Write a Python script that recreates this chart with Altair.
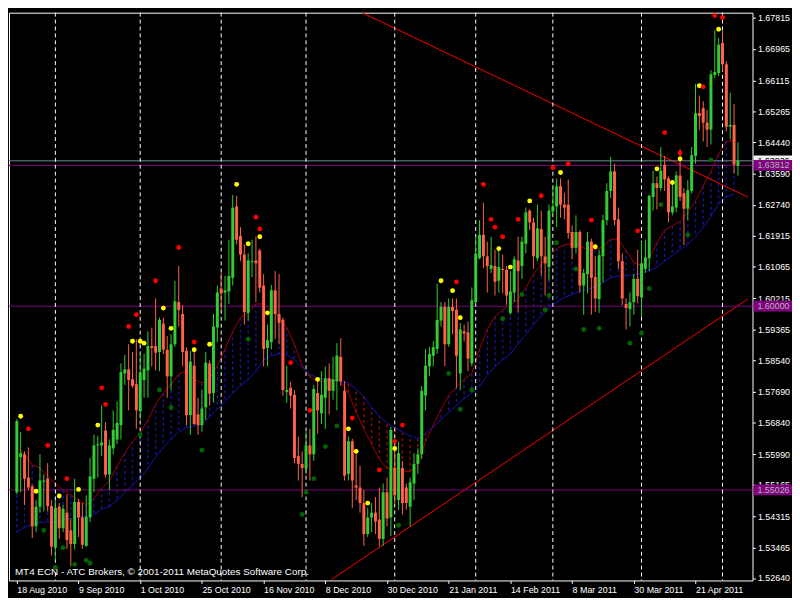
import altair as alt
import pandas as pd

# ---------------- data ----------------
date_labels = ["18 Aug 2010", "9 Sep 2010", "1 Oct 2010", "25 Oct 2010", "16 Nov 2010",
               "8 Dec 2010", "30 Dec 2010", "21 Jan 2011", "14 Feb 2011", "8 Mar 2011",
               "30 Mar 2011", "21 Apr 2011"]
date_ticks = [0, 16, 32, 48, 64, 80, 96, 112, 128, 144, 160, 176]
month_start_bars = [10, 32, 53, 75, 98, 119, 139, 162, 183]

price_ticks = [1.67815, 1.66965, 1.66115, 1.65265, 1.64440, 1.63590, 1.62740, 1.61915,
               1.61065, 1.60215, 1.59365, 1.58540, 1.57690, 1.56840, 1.55990, 1.55165,
               1.54315, 1.53465, 1.52640]

opens = [1.5496, 1.5591, 1.5599, 1.5536, 1.5512, 1.5404, 1.5457, 1.5525, 1.5533, 1.5459,
         1.5346, 1.5457, 1.5399, 1.5441, 1.5393, 1.5356, 1.5470, 1.5428, 1.5351, 1.5428,
         1.5533, 1.5623, 1.5623, 1.5663, 1.5544, 1.5615, 1.5639, 1.5678, 1.5818, 1.5829,
         1.5802, 1.5789, 1.5715, 1.5800, 1.5826, 1.5892, 1.5892, 1.5876, 1.5953, 1.5882,
         1.5810, 1.5897, 1.6011, 1.5979, 1.5879, 1.5705, 1.5839, 1.5707, 1.5678, 1.5726,
         1.5845, 1.5765, 1.5942, 1.6048, 1.6037, 1.6040, 1.6077, 1.6270, 1.6190, 1.6140,
         1.5982, 1.6119, 1.6124, 1.6151, 1.6056, 1.5887, 1.5903, 1.6043, 1.5979, 1.5963,
         1.5768, 1.5779, 1.5760, 1.5594, 1.5573, 1.5560, 1.5623, 1.5599, 1.5765, 1.5710,
         1.5752, 1.5805, 1.5771, 1.5797, 1.5863, 1.5771, 1.5546, 1.5634, 1.5515, 1.5509,
         1.5467, 1.5383, 1.5428, 1.5441, 1.5422, 1.5370, 1.5496, 1.5428, 1.5562, 1.5475,
         1.5562, 1.5509, 1.5457, 1.5520, 1.5573, 1.5599, 1.5758, 1.5837, 1.5866, 1.5884,
         1.5961, 1.5998, 1.5897, 1.5998, 1.5990, 1.5818, 1.5932, 1.5929, 1.5845, 1.6011,
         1.6130, 1.6193, 1.6135, 1.6101, 1.6109, 1.6069, 1.6101, 1.6098, 1.5982, 1.6037,
         1.6124, 1.6109, 1.6169, 1.6259, 1.6227, 1.6130, 1.6209, 1.6135, 1.6106, 1.6256,
         1.6270, 1.6325, 1.6275, 1.6275, 1.6201, 1.6158, 1.6201, 1.6056, 1.6087, 1.6175,
         1.6079, 1.6019, 1.6135, 1.6233, 1.6312, 1.6365, 1.6235, 1.6122, 1.6006, 1.5992,
         1.6011, 1.6074, 1.6024, 1.6101, 1.6130, 1.6296, 1.6333, 1.6320, 1.6383, 1.6346,
         1.6254, 1.6267, 1.6354, 1.6306, 1.6264, 1.6312, 1.6407, 1.6523, 1.6536, 1.6497,
         1.6478, 1.6626, 1.6631, 1.6713, 1.6655, 1.6486, 1.6491, 1.6380]
highs = [1.5694, 1.5660, 1.5607, 1.5618, 1.5517, 1.5475, 1.5599, 1.5544, 1.5575, 1.5475,
         1.5475, 1.5467, 1.5462, 1.5491, 1.5425, 1.5533, 1.5478, 1.5467, 1.5488, 1.5589,
         1.5652, 1.5649, 1.5731, 1.5686, 1.5639, 1.5718, 1.5742, 1.5845, 1.5868, 1.5897,
         1.5876, 1.5911, 1.5873, 1.5871, 1.5932, 1.5942, 1.6021, 1.5969, 1.5969, 1.5919,
         1.5924, 1.6069, 1.6109, 1.6003, 1.5889, 1.5879, 1.5876, 1.5752, 1.5773, 1.5876,
         1.5853, 1.5979, 1.6056, 1.6090, 1.6082, 1.6180, 1.6301, 1.6299, 1.6214, 1.6167,
         1.6143, 1.6180, 1.6188, 1.6156, 1.6087, 1.5950, 1.6058, 1.6095, 1.6087, 1.5969,
         1.5839, 1.5795, 1.5773, 1.5647, 1.5607, 1.5660, 1.5668, 1.5787, 1.5797, 1.5824,
         1.5837, 1.5845, 1.5863, 1.5900, 1.5913, 1.5797, 1.5647, 1.5641, 1.5602, 1.5568,
         1.5502, 1.5454, 1.5467, 1.5483, 1.5509, 1.5520, 1.5536, 1.5673, 1.5626, 1.5633,
         1.5581, 1.5520, 1.5536, 1.5602, 1.5615, 1.5784, 1.5884, 1.5890, 1.5905, 1.6061,
         1.6011, 1.6011, 1.6021, 1.6021, 1.6021, 1.5955, 1.5950, 1.5958, 1.6051, 1.6188,
         1.6233, 1.6280, 1.6175, 1.6188, 1.6153, 1.6153, 1.6140, 1.6109, 1.6095, 1.6135,
         1.6188, 1.6188, 1.6267, 1.6262, 1.6240, 1.6275, 1.6259, 1.6188, 1.6275, 1.6328,
         1.6346, 1.6346, 1.6307, 1.6343, 1.6219, 1.6246, 1.6206, 1.6101, 1.6201, 1.6183,
         1.6135, 1.6153, 1.6248, 1.6333, 1.6404, 1.6386, 1.6267, 1.6143, 1.6021, 1.6037,
         1.6087, 1.6153, 1.6175, 1.6180, 1.6301, 1.6367, 1.6351, 1.6431, 1.6407, 1.6351,
         1.6338, 1.6365, 1.6425, 1.6320, 1.6341, 1.6431, 1.6602, 1.6570, 1.6555, 1.6531,
         1.6639, 1.6747, 1.6726, 1.6745, 1.6663, 1.6578, 1.6547, 1.6444]
lows = [1.5491, 1.5496, 1.5462, 1.5502, 1.5372, 1.5388, 1.5441, 1.5444, 1.5444, 1.5325,
        1.5312, 1.5370, 1.5388, 1.5343, 1.5296, 1.5341, 1.5375, 1.5343, 1.5349, 1.5415,
        1.5496, 1.5536, 1.5594, 1.5536, 1.5502, 1.5599, 1.5626, 1.5639, 1.5787, 1.5718,
        1.5779, 1.5668, 1.5694, 1.5752, 1.5752, 1.5837, 1.5826, 1.5824, 1.5871, 1.5752,
        1.5773, 1.5890, 1.5945, 1.5837, 1.5678, 1.5652, 1.5678, 1.5652, 1.5660, 1.5692,
        1.5731, 1.5739, 1.5903, 1.5990, 1.5961, 1.6006, 1.6056, 1.6167, 1.6122, 1.5950,
        1.5961, 1.6079, 1.6011, 1.6037, 1.5837, 1.5837, 1.5884, 1.5911, 1.5897, 1.5758,
        1.5739, 1.5723, 1.5575, 1.5528, 1.5483, 1.5546, 1.5528, 1.5581, 1.5655, 1.5681,
        1.5668, 1.5707, 1.5747, 1.5718, 1.5784, 1.5528, 1.5528, 1.5454, 1.5475, 1.5441,
        1.5351, 1.5375, 1.5388, 1.5383, 1.5349, 1.5351, 1.5404, 1.5378, 1.5467, 1.5449,
        1.5436, 1.5449, 1.5404, 1.5475, 1.5546, 1.5586, 1.5718, 1.5810, 1.5837, 1.5871,
        1.5945, 1.5837, 1.5890, 1.5924, 1.5779, 1.5773, 1.5905, 1.5824, 1.5837, 1.6008,
        1.6127, 1.6103, 1.6037, 1.6090, 1.6029, 1.6037, 1.6035, 1.6003, 1.5977, 1.6011,
        1.5984, 1.6074, 1.6143, 1.6206, 1.6101, 1.6122, 1.6082, 1.6029, 1.6069, 1.6248,
        1.6214, 1.6240, 1.6235, 1.6183, 1.6127, 1.6143, 1.6037, 1.5977, 1.6035, 1.5977,
        1.5984, 1.5982, 1.6064, 1.6219, 1.6293, 1.6219, 1.6101, 1.6003, 1.5937, 1.5945,
        1.5977, 1.6008, 1.5971, 1.6090, 1.6095, 1.6259, 1.6262, 1.6312, 1.6312, 1.6227,
        1.6246, 1.6254, 1.6285, 1.6166, 1.6233, 1.6306, 1.6386, 1.6478, 1.6446, 1.6431,
        1.6438, 1.6618, 1.6623, 1.6636, 1.6473, 1.6452, 1.6359, 1.6354]
closes = [1.5689, 1.5602, 1.5533, 1.5509, 1.5404, 1.5457, 1.5528, 1.5528, 1.5459, 1.5349,
          1.5454, 1.5399, 1.5451, 1.5367, 1.5356, 1.5470, 1.5428, 1.5354, 1.5430, 1.5539,
          1.5623, 1.5626, 1.5631, 1.5544, 1.5623, 1.5665, 1.5684, 1.5821, 1.5829, 1.5800,
          1.5784, 1.5718, 1.5821, 1.5831, 1.5892, 1.5887, 1.5874, 1.5963, 1.5882, 1.5810,
          1.5897, 1.6013, 1.5990, 1.5876, 1.5705, 1.5850, 1.5681, 1.5678, 1.5723, 1.5847,
          1.5763, 1.5945, 1.6037, 1.6035, 1.6043, 1.6082, 1.6267, 1.6180, 1.6140, 1.5984,
          1.6124, 1.6122, 1.6116, 1.6050, 1.5884, 1.5908, 1.6043, 1.5979, 1.5955, 1.5773,
          1.5773, 1.5758, 1.5589, 1.5573, 1.5562, 1.5623, 1.5599, 1.5776, 1.5718, 1.5760,
          1.5805, 1.5771, 1.5802, 1.5866, 1.5797, 1.5541, 1.5634, 1.5528, 1.5509, 1.5467,
          1.5383, 1.5428, 1.5441, 1.5417, 1.5370, 1.5496, 1.5425, 1.5665, 1.5488, 1.5602,
          1.5467, 1.5467, 1.5523, 1.5573, 1.5599, 1.5771, 1.5839, 1.5871, 1.5889, 1.5963,
          1.5998, 1.5897, 1.5998, 1.5987, 1.5866, 1.5937, 1.5926, 1.5858, 1.6016, 1.6143,
          1.6193, 1.6135, 1.6109, 1.6111, 1.6066, 1.6106, 1.6098, 1.6029, 1.6040, 1.6127,
          1.6095, 1.6175, 1.6254, 1.6227, 1.6135, 1.6211, 1.6135, 1.6116, 1.6259, 1.6270,
          1.6325, 1.6275, 1.6267, 1.6198, 1.6158, 1.6201, 1.6056, 1.6090, 1.6175, 1.6077,
          1.6021, 1.6138, 1.6233, 1.6312, 1.6365, 1.6233, 1.6122, 1.6021, 1.5995, 1.6011,
          1.6074, 1.6027, 1.6116, 1.6132, 1.6299, 1.6333, 1.6320, 1.6367, 1.6343, 1.6254,
          1.6270, 1.6354, 1.6296, 1.6264, 1.6314, 1.6409, 1.6523, 1.6515, 1.6497, 1.6478,
          1.6628, 1.6634, 1.6708, 1.6655, 1.6486, 1.6491, 1.6383, 1.6394]

# moving averages, read every second bar (bars 0, 2, 4, ... 186)
ma_bars = list(range(0, 188, 2))
red_ma = [1.5618, 1.5599, 1.5570, 1.5562, 1.5539, 1.5520, 1.5502, 1.5488, 1.5475, 1.5462,
          1.5480, 1.5507, 1.5528, 1.5567, 1.5602, 1.5634, 1.5657, 1.5692, 1.5734, 1.5765,
          1.5789, 1.5816, 1.5824, 1.5802, 1.5792, 1.5805, 1.5839, 1.5884, 1.5932, 1.5969,
          1.5982, 1.6006, 1.6006, 1.5987, 1.5972, 1.5942, 1.5897, 1.5839, 1.5808, 1.5797,
          1.5797, 1.5800, 1.5797, 1.5765, 1.5713, 1.5668, 1.5626, 1.5586, 1.5560, 1.5562,
          1.5554, 1.5552, 1.5570, 1.5634, 1.5678, 1.5721, 1.5758, 1.5781, 1.5802, 1.5818,
          1.5884, 1.5937, 1.5972, 1.5990, 1.6003, 1.6019, 1.6050, 1.6087, 1.6114, 1.6135,
          1.6156, 1.6167, 1.6169, 1.6164, 1.6153, 1.6153, 1.6161, 1.6182, 1.6180, 1.6151,
          1.6119, 1.6111, 1.6132, 1.6172, 1.6206, 1.6217, 1.6230, 1.6254, 1.6285, 1.6325,
          1.6365, 1.6412, 1.6446, 1.6449]
blue_ma = [1.5388, 1.5401, 1.5409, 1.5415, 1.5415, 1.5417, 1.5422, 1.5425, 1.5430, 1.5430,
           1.5436, 1.5451, 1.5457, 1.5475, 1.5496, 1.5515, 1.5536, 1.5560, 1.5591, 1.5618,
           1.5639, 1.5660, 1.5671, 1.5676, 1.5681, 1.5700, 1.5721, 1.5742, 1.5765, 1.5784,
           1.5802, 1.5824, 1.5855, 1.5866, 1.5871, 1.5868, 1.5855, 1.5834, 1.5816, 1.5805,
           1.5802, 1.5800, 1.5797, 1.5792, 1.5776, 1.5755, 1.5726, 1.5702, 1.5684, 1.5671,
           1.5660, 1.5649, 1.5641, 1.5657, 1.5673, 1.5692, 1.5713, 1.5731, 1.5750, 1.5765,
           1.5784, 1.5813, 1.5837, 1.5855, 1.5871, 1.5897, 1.5924, 1.5950, 1.5974, 1.5995,
           1.6011, 1.6024, 1.6032, 1.6040, 1.6045, 1.6053, 1.6064, 1.6077, 1.6082, 1.6082,
           1.6085, 1.6090, 1.6096, 1.6106, 1.6122, 1.6138, 1.6153, 1.6167, 1.6188, 1.6214,
           1.6243, 1.6278, 1.6296, 1.6304]

# signal dots
yellow_bars = [1, 5, 11, 16, 21, 30, 32, 33, 38, 40, 46, 50, 57, 60, 63, 65, 78, 86, 88, 91,
               98, 110, 113, 115, 125, 128, 133, 141, 150, 166, 170, 172, 177, 182]
yellow_prices = [1.5702, 1.5499, 1.5486, 1.5504, 1.5678, 1.5905, 1.5905, 1.5900, 1.5995, 1.5940,
                 1.5882, 1.5897, 1.6330, 1.6169, 1.6188, 1.5982, 1.5802, 1.5668, 1.5607, 1.5467,
                 1.5615, 1.6069, 1.6042, 1.5969, 1.6156, 1.6106, 1.6285, 1.6362, 1.6161, 1.6372,
                 1.6335, 1.6399, 1.6597, 1.6750]
red_bars = [3, 8, 13, 22, 23, 29, 31, 36, 42, 46, 62, 63, 71, 76, 87, 94, 98, 100, 114, 121,
            123, 124, 126, 130, 136, 139, 143, 149, 161, 168, 172, 178, 181, 183]
red_prices = [1.5668, 1.5623, 1.5533, 1.5779, 1.5734, 1.5945, 1.5977, 1.6069, 1.6159, 1.5903,
              1.6241, 1.6209, 1.5847, 1.5718, 1.5697, 1.5557, 1.5634, 1.5678, 1.6066, 1.6330,
              1.6235, 1.6214, 1.6188, 1.6235, 1.6299, 1.6375, 1.6386, 1.6233, 1.6204, 1.6470,
              1.6415, 1.6594, 1.6787, 1.6782]
green_bars = [7, 10, 12, 15, 18, 19, 32, 37, 40, 48, 60, 74, 75, 77, 80, 83, 99, 112, 115, 118,
              126, 131, 137, 138, 140, 145, 147, 151, 159, 162, 164, 167, 174, 180]
green_prices = [1.5393, 1.5293, 1.5346, 1.5301, 1.5312, 1.5304, 1.5652, 1.5773, 1.5726, 1.5610,
                1.5911, 1.5436, 1.5496, 1.5533, 1.5620, 1.5676, 1.5407, 1.5818, 1.5721, 1.5773,
                1.5966, 1.6032, 1.5990, 1.6029, 1.6172, 1.6101, 1.5937, 1.5940, 1.5900, 1.5927,
                1.6048, 1.6275, 1.6193, 1.6396]

# horizontal levels and trend lines
level_prices = [1.63812, 1.60000, 1.55026]
bid_price = 1.63936
trend_down_bars = [89.5, 189.5]
trend_down_prices = [1.6795, 1.6296]
trend_up_bars = [81.5, 189.5]
trend_up_prices = [1.5259, 1.6019]

copyright_text = "MT4 ECN - ATC Brokers, \u00a9 2001-2011 MetaQuotes Software Corp."

# ---------------- styling ----------------
W, H = 753, 575
FONT = "Liberation Sans"
WHITE = "#FFFFFF"
UP, DOWN = "#32CD32", "#FF6347"
PURPLE = "#800080"

xscale = alt.Scale(domain=[-0.75, 189.5], nice=False, zero=False)
yscale = alt.Scale(domain=[1.52574, 1.67947], nice=False, zero=False)
label_expr = "[" + ",".join("'%s'" % d for d in date_labels) + "][round(datum.value / 16)]"
xaxis = alt.Axis(orient="bottom", values=date_ticks, labelExpr=label_expr, labelAlign="left",
                 labelBaseline="top", labelPadding=2, tickSize=3, tickColor=WHITE,
                 labelColor=WHITE, labelFont=FONT, labelFontSize=9, domain=False, grid=False,
                 labelOverlap=False, labelFlush=False, labelBound=False, title=None)
yaxis = alt.Axis(orient="right", values=price_ticks, format=".5f", labelPadding=2, tickSize=3,
                 tickColor=WHITE, labelColor=WHITE, labelFont=FONT, labelFontSize=9,
                 domain=False, grid=False, labelOverlap=False, labelFlush=False,
                 labelBound=False, title=None)


def X(field):
    return alt.X(field + ":Q", scale=xscale, axis=xaxis)


def Y(field):
    return alt.Y(field + ":Q", scale=yscale, axis=yaxis)


# ---------------- tables ----------------
candles = pd.DataFrame({"bar": list(range(len(opens))), "open": opens, "high": highs,
                        "low": lows, "close": closes})
candles["color"] = [UP if c >= o else DOWN for o, c in zip(opens, closes)]

ma = pd.DataFrame({"bar": ma_bars, "red": red_ma, "blue": blue_ma})
ma["color"] = ["#8C0A0A" if r < b else "#14148C" for r, b in zip(red_ma, blue_ma)]

dots = pd.DataFrame({
    "bar": yellow_bars + red_bars + green_bars,
    "price": yellow_prices + red_prices + green_prices,
    "color": ["#FFFF00"] * len(yellow_bars) + ["#FF0000"] * len(red_bars)
             + ["#006400"] * len(green_bars),
})

trends = pd.DataFrame({
    "id": ["down", "down", "up", "up"],
    "bar": trend_down_bars + trend_up_bars,
    "price": trend_down_prices + trend_up_prices,
})

levels = pd.DataFrame({"price": level_prices})
levels["top"] = levels["price"] + 0.00145
levels["bot"] = levels["price"] - 0.00145
levels["label"] = ["%.5f" % p for p in level_prices]

bid = pd.DataFrame({"price": [bid_price]})
bid["top"] = bid["price"] + 0.00145
bid["bot"] = bid["price"] - 0.00145
bid["label"] = ["%.5f" % bid_price]

grid = pd.DataFrame({"bar": month_start_bars})
note = pd.DataFrame({"t": [copyright_text]})

# ---------------- layers ----------------
hatch = alt.Chart(ma).mark_rule(strokeDash=[3, 3], strokeWidth=1.5).encode(
    x=X("bar"), y=Y("red"), y2="blue", color=alt.Color("color:N", scale=None))
red_line = alt.Chart(ma).mark_line(color="#A00000", strokeWidth=1).encode(x=X("bar"), y=Y("red"))
blue_line = alt.Chart(ma).mark_line(color="#1414B4", strokeWidth=1).encode(x=X("bar"), y=Y("blue"))
trend_lines = alt.Chart(trends).mark_line(color="#FF0000", strokeWidth=1, clip=True).encode(
    x=X("bar"), y=Y("price"), detail="id:N")
level_lines = alt.Chart(levels).mark_rule(color=PURPLE, strokeWidth=1).encode(y=Y("price"))
bid_line = alt.Chart(bid).mark_rule(color="#778899", strokeWidth=1).encode(y=Y("price"))
grid_lines = alt.Chart(grid).mark_rule(color=WHITE, strokeWidth=1, strokeDash=[4, 3]).encode(x=X("bar"))
wicks = alt.Chart(candles).mark_rule(strokeWidth=1).encode(
    x=X("bar"), y=Y("low"), y2="high", color=alt.Color("color:N", scale=None))
bodies = alt.Chart(candles).mark_bar(size=3, orient="vertical").encode(
    x=X("bar"), y=Y("open"), y2="close", color=alt.Color("color:N", scale=None))
dot_layer = alt.Chart(dots).mark_circle(size=24, opacity=1).encode(
    x=X("bar"), y=Y("price"), color=alt.Color("color:N", scale=None))

bid_box = alt.Chart(bid).mark_rect(color="#F0F0F0").encode(
    x=alt.value(W + 1), x2=alt.value(W + 40), y=Y("top"), y2="bot")
bid_text = alt.Chart(bid).mark_text(align="left", baseline="middle", font=FONT, fontSize=9,
                                    color="#000000").encode(
    x=alt.value(W + 5), y=Y("price"), text="label:N")
level_boxes = alt.Chart(levels).mark_rect(color=PURPLE).encode(
    x=alt.value(W + 1), x2=alt.value(W + 40), y=Y("top"), y2="bot")
level_text = alt.Chart(levels).mark_text(align="left", baseline="middle", font=FONT, fontSize=9,
                                         color="#B4B4B4").encode(
    x=alt.value(W + 5), y=Y("price"), text="label:N")
note_text = alt.Chart(note).mark_text(align="left", baseline="middle", font=FONT, fontSize=10,
                                      color=WHITE).encode(
    x=alt.value(6), y=alt.value(H - 9), text="t:N")

chart = alt.layer(
    hatch, red_line, blue_line, trend_lines, level_lines, bid_line, grid_lines,
    wicks, bodies, dot_layer, bid_box, bid_text, level_boxes, level_text, note_text
).properties(
    width=W, height=H, padding=0, background="#000000"
).configure_view(
    stroke=WHITE, strokeWidth=1, fill="#000000"
)

chart.save("out.html", embed_options={"renderer": "svg", "actions": False})
